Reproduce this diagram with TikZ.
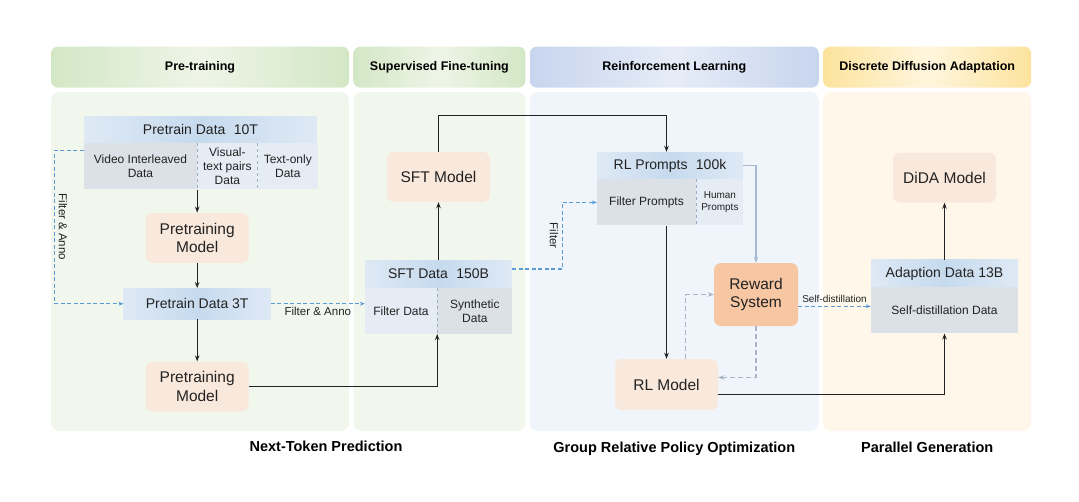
\documentclass[tikz,border=0pt]{standalone}
\usepackage{fontspec}
\setmainfont{Liberation Sans}
\usepackage{xcolor}
\usetikzlibrary{positioning, arrows.meta}

\definecolor{greenedge}{HTML}{D3E7C5}
\definecolor{greenmid}{HTML}{EEF5E7}
\definecolor{blueedge}{HTML}{C7D5EE}
\definecolor{bluemid}{HTML}{E6ECF7}
\definecolor{yellowedge}{HTML}{FCE29C}
\definecolor{yellowmid}{HTML}{FFF6DE}
\definecolor{greenpanel}{HTML}{F2F7EE}
\definecolor{bluepanel}{HTML}{EFF5FB}
\definecolor{yellowpanel}{HTML}{FFF8EA}
\definecolor{modelfill}{HTML}{F9E8DC}
\definecolor{rewardfill}{HTML}{F7C6A3}
\definecolor{dhedge}{HTML}{DEE9F5}
\definecolor{dhmid}{HTML}{C6DAEE}
\definecolor{celldark}{HTML}{DCE1E7}
\definecolor{celllight}{HTML}{E5ECF4}
\definecolor{dashblue}{HTML}{5D9BD5}
\definecolor{dashgray}{HTML}{A9B5C7}
\definecolor{linkgray}{HTML}{A8B9D2}
\definecolor{divgray}{HTML}{9AAEC8}
\definecolor{ink}{HTML}{222222}

\begin{document}
\begin{tikzpicture}[
    x=1pt, y=-1pt,
    panel/.style={rounded corners=8pt, minimum height=339pt, inner sep=0pt},
    hdrbar/.style={rounded corners=7pt, minimum height=41pt, inner sep=0pt, font=\fontsize{12.5}{15}\selectfont\bfseries},
    hgreen/.style={left color=greenedge, right color=greenedge, middle color=greenmid},
    hblue/.style={left color=blueedge, right color=blueedge, middle color=bluemid},
    hyellow/.style={left color=yellowedge, right color=yellowedge, middle color=yellowmid},
    model/.style={rounded corners=7pt, fill=modelfill, minimum width=103pt, minimum height=50pt, inner sep=0pt, align=center, text=ink, font=\fontsize{15.5}{18.5}\selectfont},
    dhead/.style={left color=dhedge, right color=dhedge, middle color=dhmid, minimum height=27pt, inner sep=0pt, text=ink, font=\fontsize{14}{16}\selectfont},
    cell/.style={minimum height=46pt, inner sep=0pt, align=center, text=ink, font=\fontsize{12}{14}\selectfont},
    divider/.style={draw=divgray, dashed, line width=0.8pt},
    arrow/.style={-{Stealth[length=6pt, width=4.5pt]}, line width=1.25pt, draw=ink},
    bdash/.style={-{Stealth[length=5pt, width=4pt]}, draw=dashblue, line width=1.2pt, dash pattern=on 4pt off 2.5pt},
    gdash/.style={-{Stealth[length=6pt, width=4.5pt]}, draw=dashgray, line width=1.2pt, dash pattern=on 5pt off 3pt},
    lightlink/.style={-{Stealth[length=6pt, width=4.5pt]}, draw=linkgray, line width=1.1pt},
    lbl/.style={text=ink, font=\fontsize{11.5}{13}\selectfont},
    caption/.style={inner sep=0pt, text height=10pt, text depth=3pt, font=\fontsize{14.5}{16}\selectfont\bfseries}
]
\useasboundingbox (0,0) rectangle (1079,501);

% Panels and stage headers
\node[panel, fill=greenpanel, minimum width=298pt] (pnl1) at (200,261.5) {};
\node[panel, fill=greenpanel, minimum width=172pt, right=4pt of pnl1] (pnl2) {};
\node[panel, fill=bluepanel, minimum width=289pt, right=4pt of pnl2] (pnl3) {};
\node[panel, fill=yellowpanel, minimum width=208pt, right=4pt of pnl3] (pnl4) {};

\node[hdrbar, hgreen, minimum width=298pt, above=4pt of pnl1] (hpre) {Pre-training};
\node[hdrbar, hgreen, minimum width=172pt, above=4pt of pnl2] (hsft) {Supervised Fine-tuning};
\node[hdrbar, hblue, minimum width=289pt, above=4pt of pnl3] (hrl) {Reinforcement Learning};
\node[hdrbar, hyellow, minimum width=208pt, above=4pt of pnl4] (hdda) {Discrete Diffusion Adaptation};

\node[caption] (capntp) at (326,448) {Next-Token Prediction};
\node[caption, below=11pt of pnl3] (capgrpo) {Group Relative Policy Optimization};
\node[caption, below=11pt of pnl4] (cappar) {Parallel Generation};

% Pre-training
\node[dhead, minimum width=233pt] (p10) at (200.5,129.5) {Pretrain Data\hspace{0.6em}10T};
\node[cell, fill=celldark, minimum width=113pt, below right=0pt and 0pt of p10.south west] (vid) {Video Interleaved\\Data};
\node[cell, fill=celllight, minimum width=60pt, right=0pt of vid] (vis) {Visual-\\text pairs\\Data};
\node[cell, fill=celllight, minimum width=60pt, right=0pt of vis] (txt) {Text-only\\Data};
\node[model, below=23pt of vid.south east] (pm1) {Pretraining\\Model};
\node[dhead, minimum width=147pt, minimum height=31pt, below=25pt of pm1] (p3) {Pretrain Data 3T};
\node[model, below=42pt of p3] (pm2) {Pretraining\\Model};

% Supervised fine-tuning
\node[model] (sft) at (438.5,177) {SFT Model};
\node[dhead, minimum width=147pt, below=58pt of sft] (sd) {SFT Data\hspace{0.6em}150B};
\node[cell, fill=celllight, minimum width=72pt, below right=0pt and 0pt of sd.south west] (sfil) {Filter Data};
\node[cell, fill=celldark, minimum width=75pt, right=0pt of sfil] (syn) {Synthetic\\Data};

% Reinforcement learning
\node[dhead, minimum width=146pt] (rlp) at (670,165.5) {RL Prompts\hspace{0.6em}100k};
\node[cell, fill=celldark, minimum width=99pt, below right=0pt and 0pt of rlp.south west] (rfil) {Filter Prompts};
\node[cell, fill=celllight, minimum width=47pt, right=0pt of rfil, font=\fontsize{10}{12}\selectfont] (hum) {Human\\Prompts};
\node[model, minimum height=51pt] (rlm) at (666.5,384.5) {RL Model};
\node[model, fill=rewardfill, minimum width=84pt, minimum height=63pt] (rew) at (756,294.5) {Reward\\System};

% Discrete diffusion adaptation
\node[model] (dida) at (944.5,177.5) {DiDA Model};
\node[dhead, minimum width=147pt, below=57pt of dida] (ad) {Adaption Data 13B};
\node[cell, fill=celldark, minimum width=147pt, below=0pt of ad] (sdd) {Self-distillation Data};
\coordinate (sdin) at ([yshift=4pt]sdd.west);

% Cell dividers
\draw[divider] (vid.north east) -- (vid.south east);
\draw[divider] (vis.north east) -- (vis.south east);
\draw[divider] (sfil.north east) -- (sfil.south east);
\draw[divider] (rfil.north east) -- (rfil.south east);

% Arrows
\draw[arrow] (vid.south east) -- (pm1);
\draw[arrow] (pm1) -- (p3);
\draw[arrow] (p3) -- (pm2);
\draw[bdash] ([yshift=-7pt]vid.north west) -- ++(-29,0) |- node[pos=0.25, rotate=-90, anchor=south, lbl] {Filter \& Anno} (p3.west);
\draw[bdash] (p3.east) -- node[below, lbl] {Filter \& Anno} (p3.east -| sfil.west);
\draw[arrow] (pm2.east) -| (sfil.south east);
\draw[arrow] (sd) -- (sft);
\draw[arrow] (sft.north) -- ++(0,-36) -| (rlp.north -| rlm);
\draw[bdash] ([yshift=5pt]sd.east) -- ++(50,0) |- node[pos=0.25, rotate=-90, anchor=north, lbl] {Filter} (rfil.west);
\draw[arrow] (rlm.north |- rfil.south) -- (rlm.north);
\draw[lightlink] (rlp.east) -| (rew.north);
\draw[gdash] ([xshift=19pt]rlm.north) |- (rew.west);
\draw[gdash] (rew.south) |- ([yshift=7pt]rlm.east);
\draw[bdash] (rew.east |- sdin) -- node[above, lbl, font=\fontsize{10}{12}\selectfont] {Self-distillation} (sdin);
\draw[arrow] ([yshift=-10pt]rlm.east) -| (sdd.south);
\draw[arrow] (ad) -- (dida);

\end{tikzpicture}
\end{document}
